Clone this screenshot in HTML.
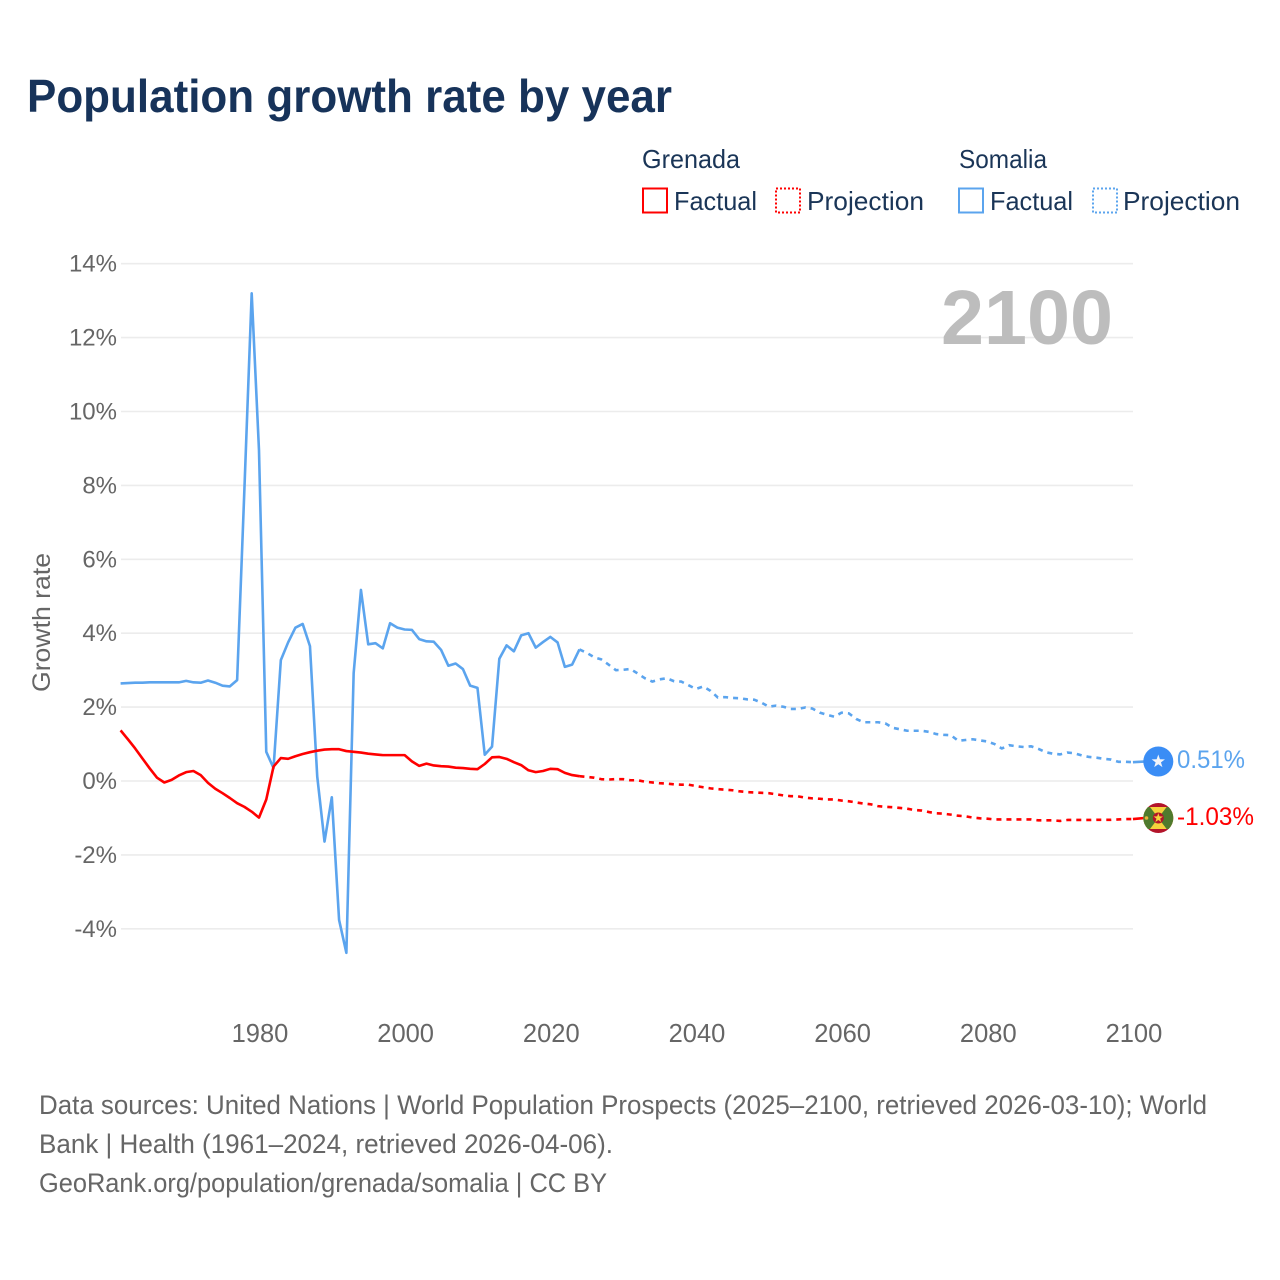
<!DOCTYPE html>
<html lang="en">
<head>
<meta charset="utf-8">
<title>Population growth rate by year</title>
<style>
html,body{margin:0;padding:0;background:#fff;}
svg{display:block;font-family:"Liberation Sans",sans-serif;}
</style>
</head>
<body>
<svg id="chart" xmlns="http://www.w3.org/2000/svg" width="1280" height="1280" viewBox="0 0 1280 1280">
  <rect width="1280" height="1280" fill="#ffffff"/>
  <text x="27" y="112" font-size="46" font-weight="700" fill="#17335a" textLength="645" lengthAdjust="spacingAndGlyphs">Population growth rate by year</text>

  <g font-size="26" fill="#1a3557">
    <text x="642" y="168" textLength="98" lengthAdjust="spacingAndGlyphs">Grenada</text>
    <text x="959" y="168" textLength="88" lengthAdjust="spacingAndGlyphs">Somalia</text>
    <g>
      <rect x="643" y="188.5" width="24" height="24" fill="none" stroke="#ff0000" stroke-width="2"/>
      <text x="674" y="210" textLength="83" lengthAdjust="spacingAndGlyphs">Factual</text>
    </g>
    <g>
      <rect x="776" y="188.5" width="24" height="24" fill="none" stroke="#ff0000" stroke-width="2" stroke-dasharray="2 2"/>
      <text x="807" y="210" textLength="117" lengthAdjust="spacingAndGlyphs">Projection</text>
    </g>
    <g>
      <rect x="959" y="188.5" width="24" height="24" fill="none" stroke="#5ba4ee" stroke-width="2"/>
      <text x="990" y="210" textLength="83" lengthAdjust="spacingAndGlyphs">Factual</text>
    </g>
    <g>
      <rect x="1093" y="188.5" width="24" height="24" fill="none" stroke="#5ba4ee" stroke-width="2" stroke-dasharray="2 2"/>
      <text x="1123" y="210" textLength="117" lengthAdjust="spacingAndGlyphs">Projection</text>
    </g>
  </g>

  <g id="grid"></g>
  <g id="yAxis" font-size="24" fill="#666666" text-anchor="end"></g>
  <g id="xAxis" font-size="25.5" fill="#666666" text-anchor="middle"></g>
  <text transform="translate(50,692) rotate(-90)" font-size="25" fill="#666666" textLength="139" lengthAdjust="spacingAndGlyphs">Growth rate</text>
  <text x="941" y="344" font-size="77" font-weight="700" fill="#bdbdbd" textLength="172" lengthAdjust="spacingAndGlyphs">2100</text>

  <g id="series"></g>

  <g>
    <circle cx="1158.3" cy="761.5" r="15" fill="#3a8df5"/>
    <polygon transform="translate(1158.3,761.5)" fill="#f2f5f9" points="0,-7 1.65,-2.27 6.66,-2.16 2.66,0.87 4.11,5.66 0,2.8 -4.11,5.66 -2.66,0.87 -6.66,-2.16 -1.65,-2.27"/>
  </g>
  <text x="1177" y="768" font-size="25" fill="#5ba4ee" textLength="68" lengthAdjust="spacingAndGlyphs">0.51%</text>

  <g>
    <clipPath id="flagClip"><circle cx="1158.3" cy="818" r="15"/></clipPath>
    <g clip-path="url(#flagClip)">
      <rect x="1143" y="803" width="31" height="31" fill="#b3142a"/>
      <rect x="1143" y="807" width="31" height="22" fill="#f6d23c"/>
      <polygon points="1143,807 1150,807 1158.3,818 1150,829 1143,829" fill="#4f7a2e"/>
      <polygon points="1174,807 1166.6,807 1158.3,818 1166.6,829 1174,829" fill="#4f7a2e"/>
      <circle cx="1158.3" cy="818" r="5.5" fill="#b3142a"/>
      <polygon transform="translate(1158.3,818) scale(0.7)" fill="#f6d23c" points="0,-7 1.65,-2.27 6.66,-2.16 2.66,0.87 4.11,5.66 0,2.8 -4.11,5.66 -2.66,0.87 -6.66,-2.16 -1.65,-2.27"/>
      <circle cx="1146.5" cy="818" r="1.8" fill="#e8b53a"/>
    </g>
  </g>
  <text x="1177" y="825" font-size="25" fill="#ff0000" textLength="77" lengthAdjust="spacingAndGlyphs">-1.03%</text>

  <g font-size="26.5" fill="#666666">
    <text x="39" y="1114" textLength="1168" lengthAdjust="spacingAndGlyphs">Data sources: United Nations | World Population Prospects (2025–2100, retrieved 2026-03-10); World</text>
    <text x="39" y="1153" textLength="574" lengthAdjust="spacingAndGlyphs">Bank | Health (1961–2024, retrieved 2026-04-06).</text>
    <text x="39" y="1192" textLength="568" lengthAdjust="spacingAndGlyphs">GeoRank.org/population/grenada/somalia | CC BY</text>
  </g>
</svg>

<script>
const factualStartYear = 1961;
const projectionStartYear = 2024;
const yTickValues = [-4, -2, 0, 2, 4, 6, 8, 10, 12, 14];
const yTickLabels = ["-4%", "-2%", "0%", "2%", "4%", "6%", "8%", "10%", "12%", "14%"];
const xTickValues = [1980, 2000, 2020, 2040, 2060, 2080, 2100];
const xTickLabels = ["1980", "2000", "2020", "2040", "2060", "2080", "2100"];

const somaliaFactual = [
  2.64,2.65,2.66,2.66,2.67,2.67,2.67,2.67,2.67,
  2.71,2.67,2.66,2.72,2.66,2.58,2.56,2.73,7.9,13.2,
  8.96,0.79,0.35,3.27,3.75,4.15,4.25,3.65,0.12,-1.64,
  -0.44,-3.76,-4.65,2.92,5.17,3.70,3.73,3.59,4.27,4.15,
  4.10,4.09,3.84,3.78,3.77,3.55,3.12,3.18,3.03,2.58,
  2.52,0.71,0.93,3.31,3.67,3.51,3.94,4.00,3.61,3.76,
  3.90,3.75,3.09,3.15,3.56
];
const somaliaProjection = [
  3.56,3.47,3.35,3.29,3.15,3.00,3.01,3.03,2.91,2.78,
  2.69,2.75,2.78,2.70,2.69,2.59,2.49,2.56,2.44,2.26,
  2.27,2.25,2.24,2.21,2.20,2.12,2.01,2.04,2.01,1.95,
  1.95,1.99,1.96,1.85,1.79,1.74,1.85,1.83,1.68,1.59,
  1.59,1.59,1.56,1.44,1.40,1.36,1.36,1.36,1.33,1.27,
  1.25,1.24,1.09,1.11,1.13,1.10,1.07,1.00,0.88,0.97,
  0.94,0.92,0.94,0.87,0.78,0.74,0.72,0.77,0.75,0.69,
  0.65,0.63,0.60,0.58,0.52,0.52,0.51
];
const grenadaFactual = [
  1.37,1.13,0.88,0.61,0.34,0.09,-0.04,0.03,0.15,
  0.24,0.27,0.16,-0.05,-0.21,-0.33,-0.46,-0.60,-0.70,-0.83,
  -0.99,-0.50,0.39,0.62,0.60,0.67,0.73,0.78,0.82,0.85,
  0.86,0.86,0.81,0.79,0.77,0.74,0.72,0.70,0.70,0.70,
  0.70,0.53,0.41,0.47,0.42,0.40,0.39,0.36,0.35,0.33,
  0.32,0.46,0.64,0.65,0.60,0.51,0.43,0.29,0.24,0.27,
  0.33,0.32,0.22,0.16,0.13
];
const grenadaProjection = [
  0.13,0.11,0.09,0.05,0.04,0.05,0.05,0.02,0.02,-0.02,
  -0.04,-0.06,-0.07,-0.09,-0.10,-0.10,-0.135,-0.17,-0.20,-0.22,
  -0.235,-0.25,-0.28,-0.30,-0.31,-0.32,-0.33,-0.36,-0.39,-0.41,
  -0.415,-0.45,-0.47,-0.48,-0.50,-0.50,-0.53,-0.55,-0.58,-0.61,
  -0.63,-0.68,-0.70,-0.71,-0.73,-0.75,-0.785,-0.80,-0.84,-0.875,
  -0.885,-0.91,-0.94,-0.955,-0.99,-1.01,-1.02,-1.04,-1.04,-1.04,
  -1.04,-1.04,-1.04,-1.065,-1.065,-1.065,-1.08,-1.055,-1.055,-1.055,
  -1.055,-1.05,-1.05,-1.05,-1.04,-1.03,-1.03
];

const NS = "http://www.w3.org/2000/svg";
function xScale(year) { return 120.6 + (year - 1961) * 7.283; }
function yScale(pct) { return 781 - pct * 36.95; }

function pathFrom(startYear, values) {
  return values.map(function (v, i) {
    return (i ? "L" : "M") + xScale(startYear + i).toFixed(2) + " " + yScale(v).toFixed(2);
  }).join("");
}

const gridG = document.getElementById("grid");
const yAxisG = document.getElementById("yAxis");
const xAxisG = document.getElementById("xAxis");
const seriesG = document.getElementById("series");

yTickValues.forEach(function (v, i) {
  const line = document.createElementNS(NS, "line");
  
  
  line.setAttribute("x1", 121);
  line.setAttribute("x2", 1133);
  line.setAttribute("y1", yScale(v));
  line.setAttribute("y2", yScale(v));
  line.setAttribute("stroke", "#ececec");
  line.setAttribute("stroke-width", 1.6);
  gridG.appendChild(line);

  const label = document.createElementNS(NS, "text");
  
  
  label.setAttribute("x", 117);
  label.setAttribute("y", yScale(v) + 8);
  label.textContent = yTickLabels[i];
  yAxisG.appendChild(label);
});

xTickValues.forEach(function (v, i) {
  const label = document.createElementNS(NS, "text");
  
  
  label.setAttribute("x", xScale(v) + 1);
  label.setAttribute("y", 1042);
  label.textContent = xTickLabels[i];
  xAxisG.appendChild(label);
});

function addSeries(d, color, dash) {
  const p = document.createElementNS(NS, "path");
  p.setAttribute("d", d);
  p.setAttribute("fill", "none");
  p.setAttribute("stroke", color);
  p.setAttribute("stroke-width", 2.6);
  p.setAttribute("stroke-linejoin", "round");
  if (dash) p.setAttribute("stroke-dasharray", dash);
  seriesG.appendChild(p);
  return p;
}

const somaliaFactualLine = addSeries(pathFrom(factualStartYear, somaliaFactual), "#5ba4ee", null);



const somaliaProjectionLine = addSeries(pathFrom(projectionStartYear, somaliaProjection), "#5ba4ee", "5 5");



const grenadaFactualLine = addSeries(pathFrom(factualStartYear, grenadaFactual), "#ff0000", null);



const grenadaProjectionLine = addSeries(pathFrom(projectionStartYear, grenadaProjection), "#ff0000", "5 5");



const lastYear = projectionStartYear + somaliaProjection.length - 1;

const somaliaConnector = addSeries("M" + xScale(lastYear) + " " + yScale(somaliaProjection[somaliaProjection.length - 1]) + "L1145 761.5", "#5ba4ee", null);



const grenadaConnector = addSeries("M" + xScale(lastYear) + " " + yScale(grenadaProjection[grenadaProjection.length - 1]) + "L1145 818", "#ff0000", null);


</script>
</body>
</html>
